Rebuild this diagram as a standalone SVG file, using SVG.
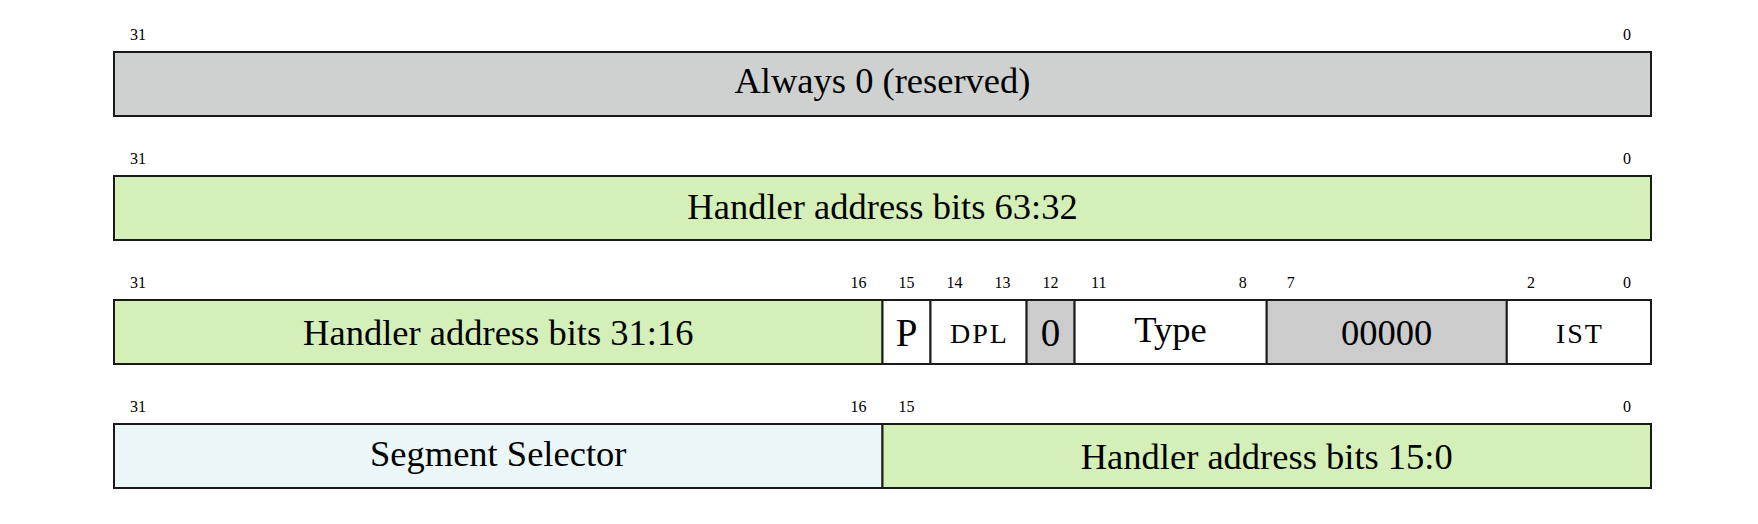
<svg xmlns="http://www.w3.org/2000/svg" width="1758" height="524" viewBox="0 0 1758 524">
<style>
.f{stroke:#1a1a1a;stroke-width:2}
.gray{fill:#cfd1d0}
.gray2{fill:#cccccc}
.green{fill:#d4f0b8}
.blue{fill:#eaf6f8}
.white{fill:#ffffff}
.lbl{font-family:"Liberation Serif","Times New Roman",serif;font-size:36.5px;fill:#000;text-anchor:middle}
.big{font-size:39px}
.sm{font-family:"Liberation Serif","Times New Roman",serif;font-size:28px;letter-spacing:2px;fill:#000;text-anchor:middle}
.bit{font-family:"Liberation Serif","Times New Roman",serif;font-size:16px;fill:#000;text-anchor:middle}
</style>
<rect width="1758" height="524" fill="#ffffff"/>
<g id="row1">
<text class="bit" x="138" y="40">31</text>
<text class="bit" x="1627" y="40">0</text>
<g id="reserved"><rect class="f gray" x="114" y="52" width="1537" height="64"/><text class="lbl" x="882.5" y="93">Always 0 (reserved)</text></g>
</g>
<g id="row2">
<text class="bit" x="138" y="164">31</text>
<text class="bit" x="1627" y="164">0</text>
<g id="handler-63-32"><rect class="f green" x="114" y="176" width="1537" height="64"/><text class="lbl" x="882.5" y="219">Handler address bits 63:32</text></g>
</g>
<g id="row3">
<text class="bit" x="138" y="288">31</text>
<text class="bit" x="858.5" y="288">16</text>
<text class="bit" x="906.5" y="288">15</text>
<text class="bit" x="954.6" y="288">14</text>
<text class="bit" x="1002.6" y="288">13</text>
<text class="bit" x="1050.6" y="288">12</text>
<text class="bit" x="1098.7" y="288">11</text>
<text class="bit" x="1242.7" y="288">8</text>
<text class="bit" x="1290.7" y="288">7</text>
<text class="bit" x="1530.9" y="288">2</text>
<text class="bit" x="1627" y="288">0</text>
<g id="handler-31-16"><rect class="f green" x="114" y="300" width="768.5" height="64"/><text class="lbl" x="498.25" y="345">Handler address bits 31:16</text></g>
<g id="p"><rect class="f white" x="882.5" y="300" width="48" height="64"/><text class="lbl big" x="906.5" y="346">P</text></g>
<g id="dpl"><rect class="f white" x="930.5" y="300" width="96.1" height="64"/><text class="sm" x="979.5" y="343">DPL</text></g>
<g id="zero"><rect class="f gray2" x="1026.6" y="300" width="48" height="64"/><text class="lbl big" x="1050.6" y="346">0</text></g>
<g id="type"><rect class="f white" x="1074.6" y="300" width="192.1" height="64"/><text class="lbl" x="1170.6" y="342">Type</text></g>
<g id="zeros"><rect class="f gray2" x="1266.7" y="300" width="240.1" height="64"/><text class="lbl" x="1386.7" y="345">00000</text></g>
<g id="ist"><rect class="f white" x="1506.8" y="300" width="144.2" height="64"/><text class="sm" x="1579.9" y="343">IST</text></g>
</g>
<g id="row4">
<text class="bit" x="138" y="412">31</text>
<text class="bit" x="858.5" y="412">16</text>
<text class="bit" x="906.5" y="412">15</text>
<text class="bit" x="1627" y="412">0</text>
<g id="segment-selector"><rect class="f blue" x="114" y="424" width="768.5" height="64"/><text class="lbl" x="498.25" y="466">Segment Selector</text></g>
<g id="handler-15-0"><rect class="f green" x="882.5" y="424" width="768.5" height="64"/><text class="lbl" x="1266.75" y="469">Handler address bits 15:0</text></g>
</g>
<g id="connectors"></g>
</svg>
